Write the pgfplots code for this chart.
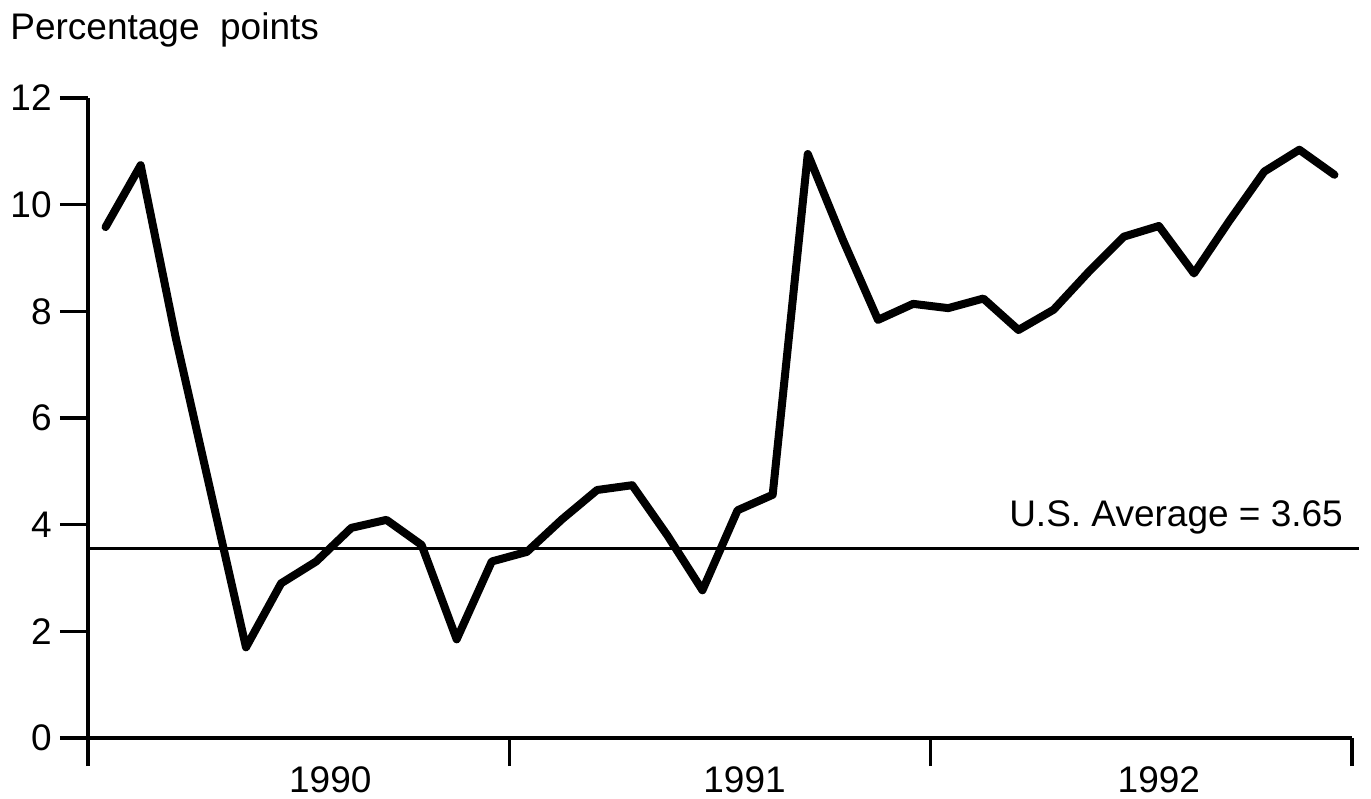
\documentclass[border=0pt]{standalone}
\usepackage{pgfplots}
\pgfplotsset{compat=1.18}
\usepackage{fontspec}
\setmainfont{Liberation Sans}
\begin{document}
\begin{tikzpicture}[font=\fontsize{18.5}{22}\selectfont]
\begin{axis}[
  scale only axis, width=632pt, height=320pt,
  xmin=0, xmax=36, ymin=0, ymax=12,
  axis lines=left, axis line style={-, line width=1.7pt},
  clip=false,
  xtick={0,12,24,36}, xticklabels={,,,},
  extra x ticks={6.9,18.7,30.5}, extra x tick labels={1990,1991,1992},
  extra x tick style={tick style={draw=none}, xticklabel style={inner sep=0pt, anchor=north}},
  ytick={0,2,4,6,8,10,12},
  tick align=outside, major tick length=14pt,
  tick style={line width=1.7pt, black},
  /pgf/number format/assume math mode=true,
  yticklabel style={font=\fontsize{18.5}{22}\selectfont, inner sep=4pt},
  xticklabel style={font=\fontsize{18.5}{22}\selectfont},
]
\addplot[black, line width=4pt, line join=round, line cap=round] coordinates {
(0.5,9.58) (1.5,10.74) (2.5,7.5) (3.5,4.6) (4.5,1.7) (5.5,2.9) (6.5,3.31) (7.5,3.94)
(8.5,4.09) (9.5,3.62) (10.5,1.85) (11.5,3.31) (12.5,3.49) (13.5,4.1) (14.5,4.65) (15.5,4.74)
(16.5,3.8) (17.5,2.77) (18.5,4.27) (19.5,4.56) (20.5,10.95) (21.5,9.34) (22.5,7.84) (23.5,8.14)
(24.5,8.06) (25.5,8.24) (26.5,7.65) (27.5,8.03) (28.5,8.74) (29.5,9.4) (30.5,9.6) (31.5,8.71)
(32.5,9.69) (33.5,10.62) (34.5,11.03) (35.5,10.56)
};
\addplot[black, line width=1.6pt] coordinates {(0,3.56) (36.2,3.56)};
\node[anchor=base east, inner sep=0pt] at (axis cs:35.75,3.96) {U.S. Average = 3.65};
\node[anchor=base west, inner sep=0pt, xshift=-39pt, yshift=29pt] at (rel axis cs:0,1) {Percentage\ \ points};
\coordinate (O) at (axis cs:0,0);
\end{axis}
\pgfresetboundingbox
\path ([shift={(-44pt,-30pt)}]O) rectangle ([shift={(641.5pt,369pt)}]O);
\end{tikzpicture}
\end{document}
